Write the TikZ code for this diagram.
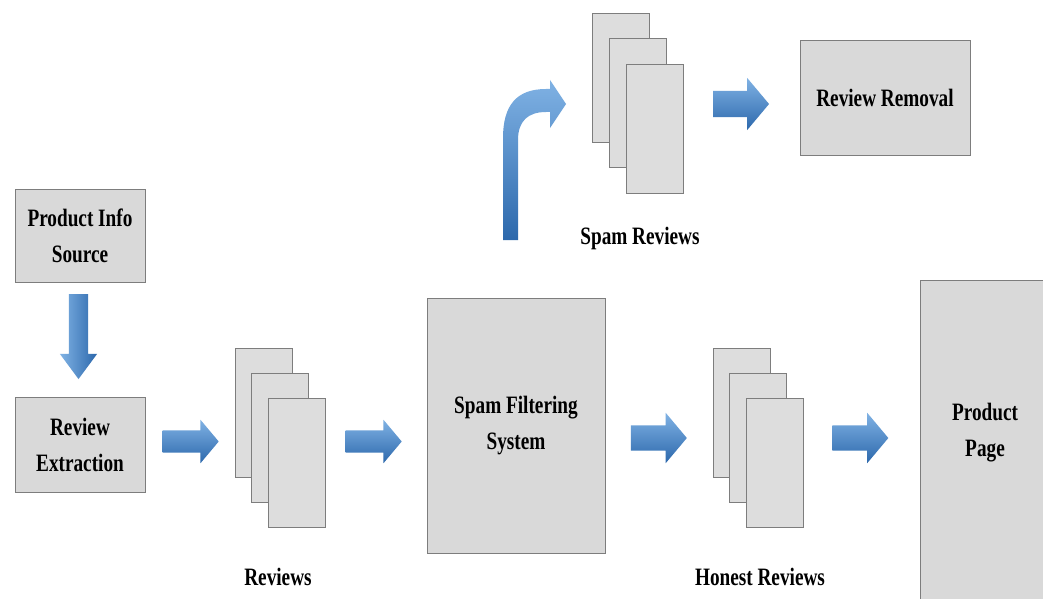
\documentclass[tikz,border=0pt]{standalone}
\usepackage{fontspec}
\newfontfamily\diagfont{Liberation Serif}[FakeStretch=0.77]
\usepackage{xcolor}
\usetikzlibrary{positioning}
\usetikzlibrary{shapes.arrows}
\definecolor{boxgray}{RGB}{217,217,217}
\definecolor{pagegray}{RGB}{221,221,221}
\definecolor{edgegray}{RGB}{125,125,125}
\definecolor{arrowlight}{RGB}{128,178,228}
\definecolor{arrowdark}{RGB}{44,104,172}

\begin{document}
\begin{tikzpicture}[x=1pt, y=-1pt,
      every node/.style={font=\diagfont\bfseries\fontsize{25}{36}\selectfont},
      type-box/.style={rectangle, draw=edgegray, fill=boxgray, thick, align=center, inner sep=0pt},
      type-page/.style={rectangle, draw=edgegray, fill=pagegray, thick, minimum width=57pt, minimum height=129pt, inner sep=0pt},
      type-label/.style={inner sep=0pt, align=center},
      type-block/.style={single arrow, draw=none, inner xsep=0pt, inner ysep=11pt,
        single arrow head extend=10.5pt, single arrow tip angle=100,
        minimum width=43pt, minimum height=56pt},
      type-arrow/.style={type-block, top color=arrowlight, bottom color=arrowdark}
    ]
      \clip (0,0) rectangle (1043,599);
      \fill[white] (0,0) rectangle (1043,599);
      % boxes
      \node[type-box, minimum width=130pt, minimum height=93pt] (source) at (80,236) {Product Info\\Source};
      \node[type-box, minimum width=130pt, minimum height=95pt] (extract) at (80,444.5) {Review\\Extraction};
      \node[type-box, minimum width=178pt, minimum height=255pt] (filter) at (516,425.5) {Spam Filtering\\System};
      \node[type-box, minimum width=170pt, minimum height=115pt] (removal) at (885,97.5) {Review Removal};
      \node[type-box, minimum width=135pt, minimum height=340pt, anchor=north west] (page) at (920,280) {};
      \node[type-label] (page-text) at (985,433) {Product\\Page};
      % page stacks
      \foreach \i in {1,2,3} {
        \node[type-page] (rev-\i) at ({263.5+16.5*(\i-1)},{412.5+25*(\i-1)}) {};
        \node[type-page] (honest-\i) at ({741.5+16.5*(\i-1)},{412.5+25*(\i-1)}) {};
        \node[type-page] (spam-\i) at ({621+17*(\i-1)},{77.5+25.5*(\i-1)}) {};
      }
      \node[type-label] (rev-label) at (278,577) {Reviews};
      \node[type-label] (honest-label) at (760,577) {Honest Reviews};
      \node[type-label] (spam-label) at (640,238) {Spam Reviews};
      % block arrows
      \node[type-block, shape border rotate=270, left color=arrowlight, right color=arrowdark, inner sep=9.5pt,
        minimum width=37pt, minimum height=85pt, single arrow head extend=9pt, single arrow tip angle=73] (down) at (78.5,330) {};
      \node[type-arrow] (arr-1) at (186,441.5) {};
      \node[type-arrow] (arr-2) at (369,441.5) {};
      \node[type-arrow, minimum width=50pt, inner ysep=12.5pt, single arrow head extend=12.5pt] (arr-3) at (653.5,438) {};
      \node[type-arrow, minimum width=50pt, inner ysep=12.5pt, single arrow head extend=12.5pt] (arr-4) at (855,438) {};
      \node[type-arrow, minimum width=52pt, inner ysep=13pt, single arrow head extend=13pt] (arr-5) at (735.5,104) {};
      \shade[top color=arrowlight, bottom color=arrowdark]
        (503,240) -- (503,138) .. controls (503,106) and (516,89) .. (546,89)
        -- (550,89) -- (550,80) -- (566,104) -- (550,128) -- (550,112) -- (546,112)
        .. controls (528,112) and (518,121) .. (518,140) -- (518,240) -- cycle;
    \end{tikzpicture}
\end{document}
